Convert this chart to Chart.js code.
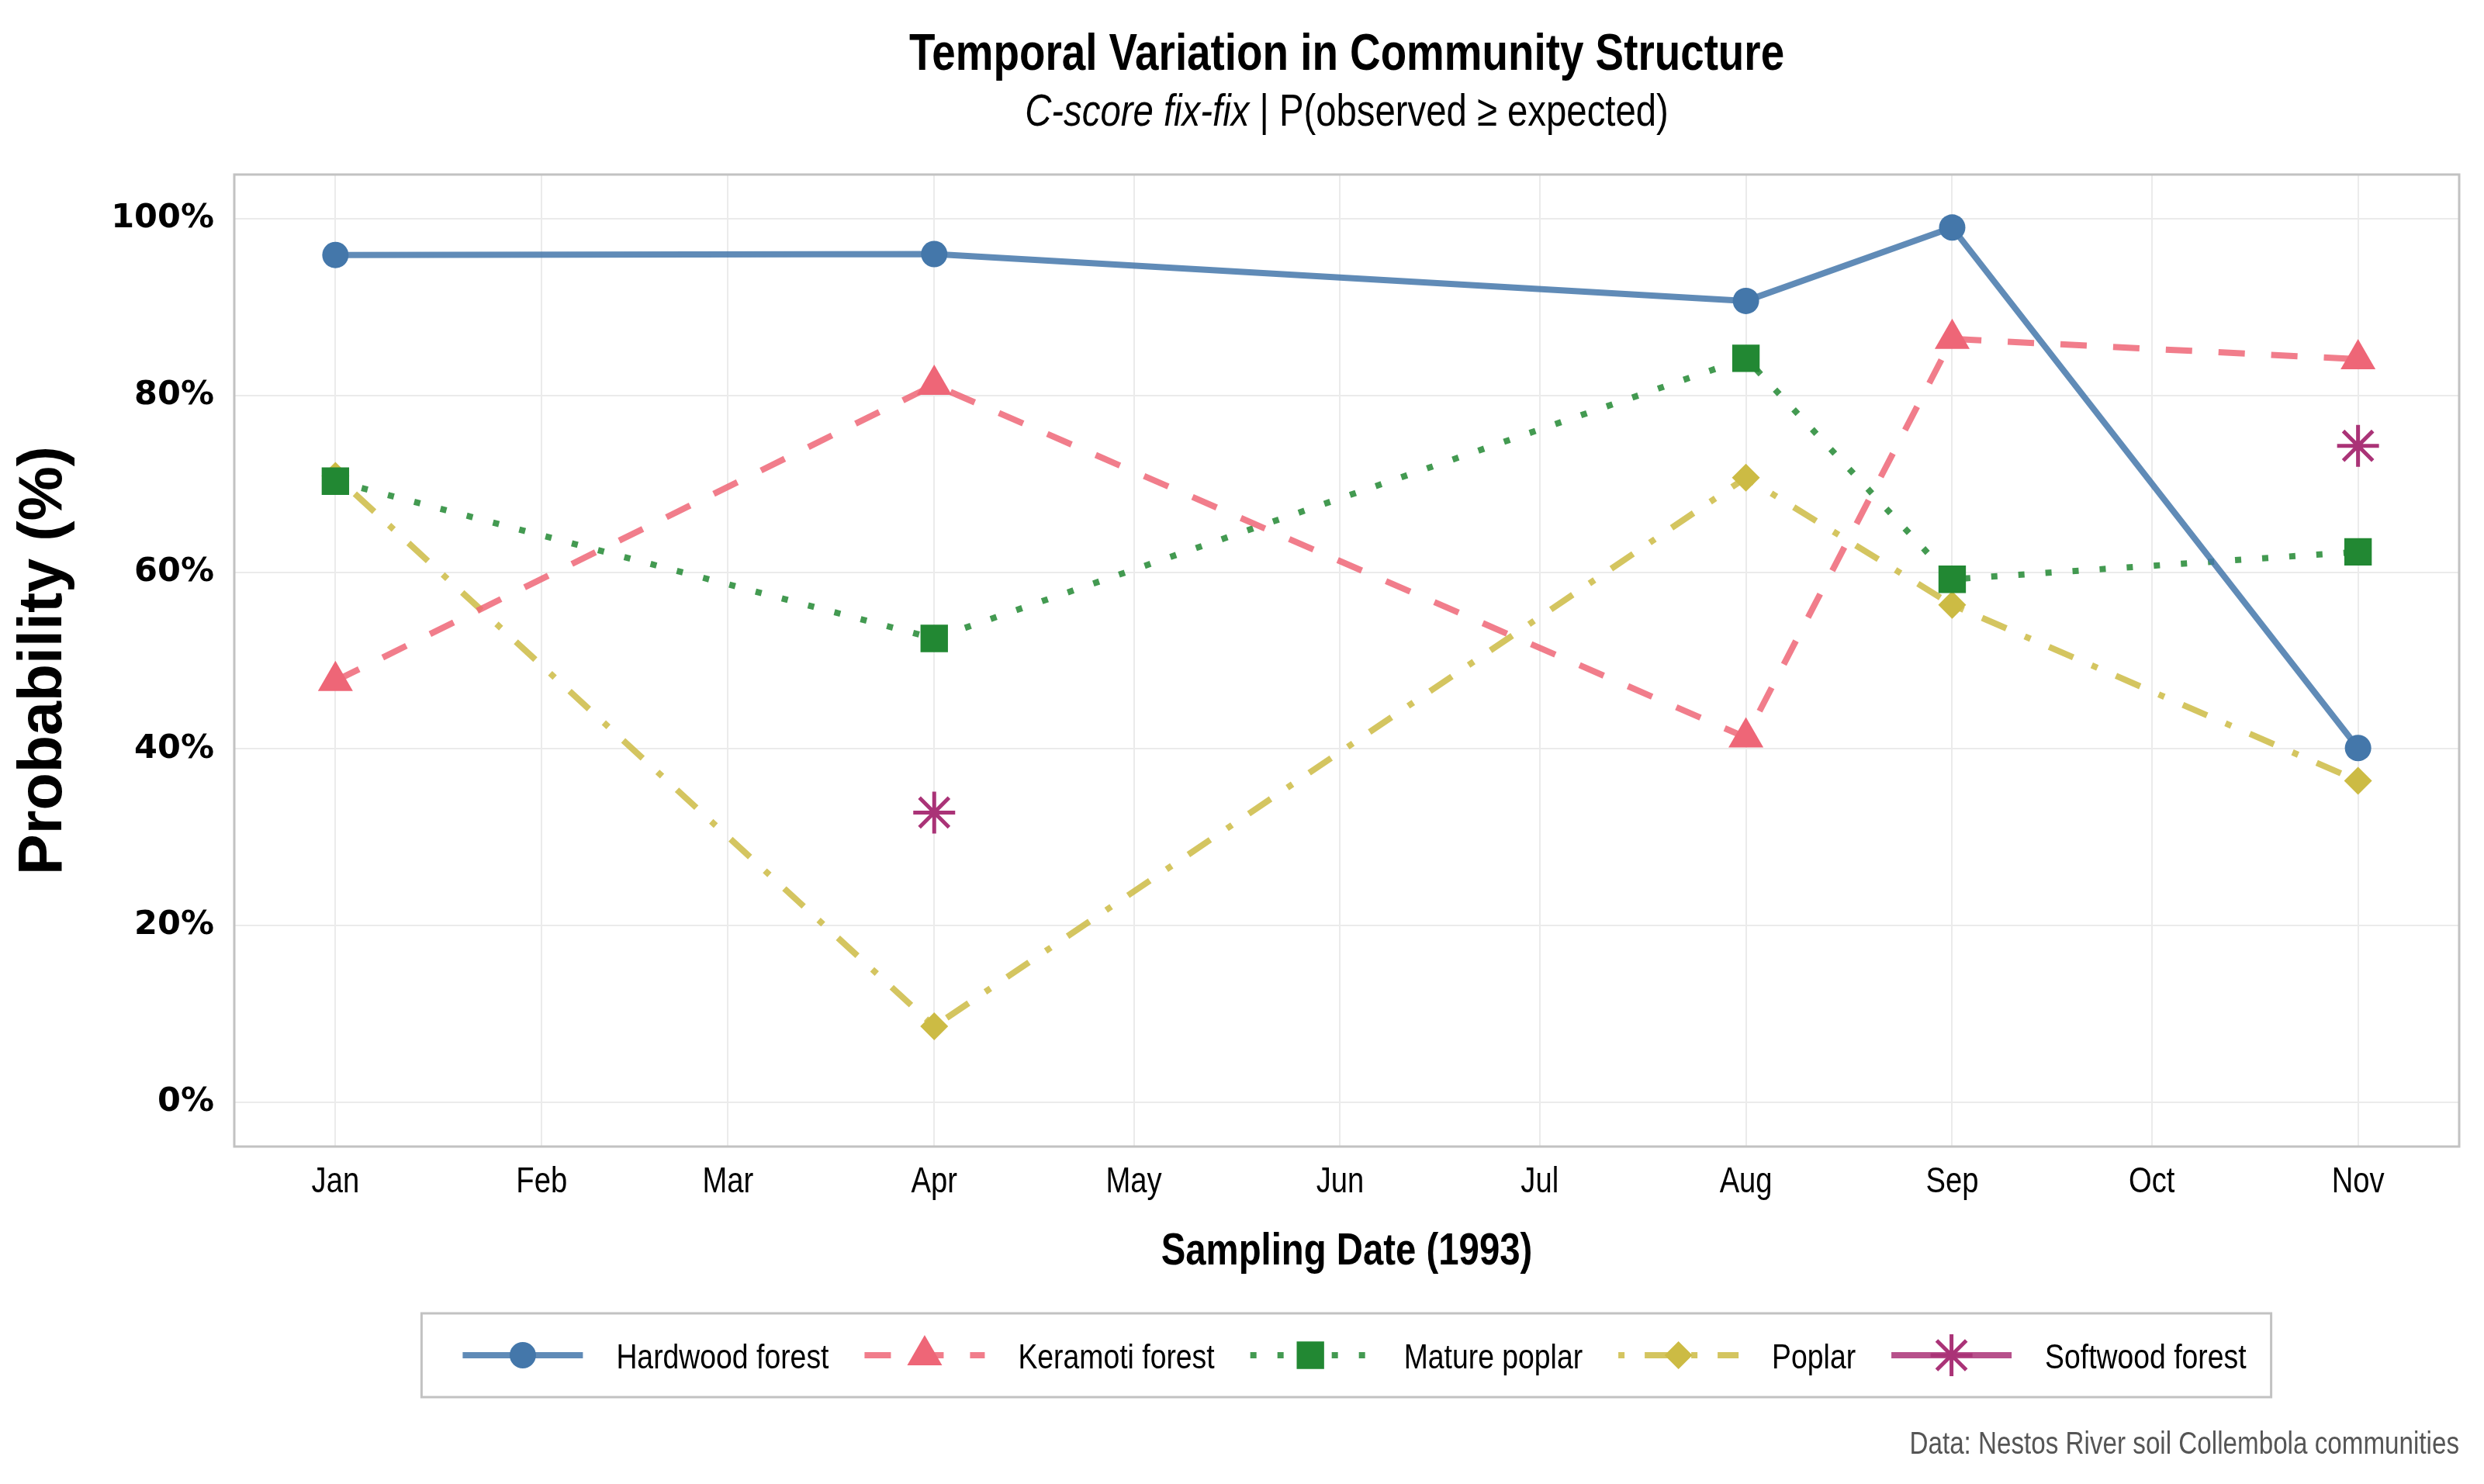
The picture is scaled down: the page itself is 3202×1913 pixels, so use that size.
<!DOCTYPE html>
<html>
<head>
<meta charset="utf-8">
<title>Temporal Variation in Community Structure</title>
<script src="https://cdn.jsdelivr.net/npm/chart.js@4.4.0/dist/chart.umd.min.js"></script>
<style>
  html, body { margin: 0; padding: 0; background: #fff; }
</style>
</head>
<body>
<canvas id="chart" width="3202" height="1913"></canvas>
<script>
/* Data (C-score fix-fix, P(observed >= expected), %) */
const monthLabels   = ['Jan','Feb','Mar','Apr','May','Jun','Jul','Aug','Sep','Oct','Nov'];
const monthStartDay = [0, 31, 59, 90, 120, 151, 181, 212, 243, 273, 304];   // day of 1993
const sampleMonths  = ['Jan','Apr','Aug','Sep','Nov'];
const yTicks        = [0, 20, 40, 60, 80, 100];

const hardwood     = [95.9, 96.0, 90.7, 99.0, 40.1];
const keramoti     = [47.7, 81.2, 41.3, 86.4, 84.1];
const maturePoplar = [70.3, 52.5, 84.2, 59.2, 62.3];
const poplar       = [70.9,  8.6, 70.7, 56.3, 36.4];
const softwood     = [null, 32.8, null, null, 74.3];

const seriesNames = ['Hardwood forest','Keramoti forest','Mature poplar','Poplar','Softwood forest'];
const seriesData  = [hardwood, keramoti, maturePoplar, poplar, softwood];

/* Look */
const SANS = '"Liberation Sans", Arial, sans-serif';
const SQUEEZE = 0.83;   // Arial Narrow look
const styles = {
  'Hardwood forest': { color:'#4477AA', line:'rgba(68,119,170,0.85)',  dash:[],           point:'circle',  r:17, bw:0 },
  'Keramoti forest': { color:'#EE6677', line:'rgba(238,102,119,0.85)', dash:[34,34],      point:'triangle',r:26, bw:0 },
  'Mature poplar':   { color:'#228833', line:'rgba(34,136,51,0.85)',   dash:[8,27],       point:'rect',    r:25, bw:0 },
  'Poplar':          { color:'#CCBB44', line:'rgba(204,187,68,0.85)',  dash:[8,26,34,26], point:'rectRot', r:18, bw:0 },
  'Softwood forest': { color:'#AA3377', line:'rgba(170,51,119,0.85)',  dash:[],           point:'star',    r:27, bw:5 }
};
const LINE_W = 8;

function dayOf(m){ return monthStartDay[monthLabels.indexOf(m)]; }

const datasets = seriesNames.map((name, i) => {
  const s = styles[name];
  return {
    label: name,
    data: sampleMonths.map((m, j) => ({ x: dayOf(m), y: seriesData[i][j] })),
    borderColor: s.line,
    borderWidth: LINE_W,
    borderDash: s.dash,
    borderJoinStyle: 'round',
    pointStyle: s.point,
    pointRadius: s.r,
    pointBackgroundColor: s.color,
    pointBorderColor: s.color,
    pointBorderWidth: s.bw,
    spanGaps: false,
    tension: 0,
    fill: false
  };
});

/* narrow text: Liberation Sans squeezed horizontally */
function narrowText(ctx, text, x, y, font, align, color) {
  ctx.save();
  ctx.font = font;
  const w = ctx.measureText(text).width * SQUEEZE;
  const left = align === 'center' ? x - w / 2 : align === 'right' ? x - w : x;
  ctx.translate(left, y);
  ctx.scale(SQUEEZE, 1);
  ctx.textAlign = 'left';
  ctx.textBaseline = 'alphabetic';
  ctx.fillStyle = color || '#000';
  ctx.fillText(text, 0, 0);
  ctx.restore();
  return w;
}
function narrowWidth(ctx, text, font) {
  ctx.save(); ctx.font = font;
  const w = ctx.measureText(text).width * SQUEEZE;
  ctx.restore();
  return w;
}

/* Titles, x labels, panel border, ggplot-style legend and caption */
const decor = {
  id: 'decor',
  afterDraw(chart) {
    const { ctx, chartArea: a } = chart;
    const xs = chart.scales.x;
    const cx = (a.left + a.right) / 2;
    ctx.save();

    // panel border
    ctx.strokeStyle = '#c2c2c2';
    ctx.lineWidth = 3;
    ctx.strokeRect(a.left, a.top, a.right - a.left, a.bottom - a.top);

    // title + subtitle
    narrowText(ctx, 'Temporal Variation in Community Structure', cx, 90, `bold 66px ${SANS}`, 'center');
    const partA = 'C-score fix-fix', partB = ' | P(observed \u2265 expected)';
    const fA = `italic 57px ${SANS}`, fB = `57px ${SANS}`;
    const wA = narrowWidth(ctx, partA, fA), wB = narrowWidth(ctx, partB, fB);
    const sx = cx - (wA + wB) / 2;
    narrowText(ctx, partA, sx, 162, fA, 'left');
    narrowText(ctx, partB, sx + wA, 162, fB, 'left');

    // x tick labels and x title
    monthLabels.forEach((lab, i) => {
      narrowText(ctx, lab, xs.getPixelForValue(monthStartDay[i]), 1537, `46px ${SANS}`, 'center');
    });
    narrowText(ctx, 'Sampling Date (1993)', cx, 1630, `bold 57px ${SANS}`, 'center');

    // legend
    const keyW = 155, keyGap = 43, itemGap = 46, ly = 1747;
    const lf = `45px ${SANS}`;
    const tw = seriesNames.map(n => narrowWidth(ctx, n, lf));
    const total = seriesNames.length * (keyW + keyGap) + tw.reduce((p, q) => p + q, 0) + (seriesNames.length - 1) * itemGap;
    let x = cx + 10 - total / 2;
    ctx.strokeStyle = '#c2c2c2';
    ctx.lineWidth = 3;
    ctx.setLineDash([]);
    ctx.strokeRect(x - 53, 1693, total + 53 + 32, 108);
    seriesNames.forEach((name, i) => {
      const s = styles[name];
      ctx.strokeStyle = s.line;
      ctx.lineWidth = LINE_W;
      ctx.lineCap = 'butt';
      ctx.setLineDash(s.dash);
      ctx.beginPath();
      ctx.moveTo(x, ly);
      ctx.lineTo(x + keyW, ly);
      ctx.stroke();
      ctx.setLineDash([]);
      ctx.fillStyle = s.color;
      ctx.strokeStyle = s.color;
      ctx.lineWidth = s.bw;
      if (Chart.helpers && Chart.helpers.drawPoint) {
        Chart.helpers.drawPoint(ctx, { pointStyle: s.point, rotation: 0, radius: s.r, borderWidth: s.bw }, x + keyW / 2, ly);
      }
      narrowText(ctx, name, x + keyW + keyGap, ly + 17, lf, 'left');
      x += keyW + keyGap + tw[i] + itemGap;
    });

    // caption
    narrowText(ctx, 'Data: Nestos River soil Collembola communities', a.right, 1874, `40px ${SANS}`, 'right', '#555');

    ctx.restore();
  }
};

new Chart(document.getElementById('chart'), {
  type: 'line',
  data: { datasets },
  plugins: [decor],
  options: {
    responsive: false,
    animation: false,
    layout: { padding: { left: 0, top: 225, right: 31, bottom: 273 } },
    plugins: { legend: { display: false }, tooltip: { enabled: false } },
    scales: {
      x: {
        type: 'linear',
        min: -15.2,
        max: 319.2,
        afterBuildTicks: s => { s.ticks = monthStartDay.map(v => ({ value: v })); },
        afterFit: s => { s.height = 162; },
        ticks: { display: false, autoSkip: false },
        grid: { color: '#ebebeb', lineWidth: 2, drawTicks: false },
        border: { display: false },
        title: { display: false }
      },
      y: {
        min: -5,
        max: 105,
        afterBuildTicks: s => { s.ticks = yTicks.map(v => ({ value: v })); },
        afterFit: s => { s.width = 302; },
        ticks: {
          padding: 26, color: '#000',
          font: { family: '"DejaVu Sans", sans-serif', size: 43, weight: 'bold' },
          callback: v => v + '%'
        },
        grid: { color: '#ebebeb', lineWidth: 2, drawTicks: false },
        border: { display: false },
        title: {
          display: true, text: 'Probability (%)', color: '#000',
          font: { family: SANS, size: 79, weight: 'bold' },
          padding: { top: 10, bottom: 0 }
        }
      }
    }
  }
});
</script>
</body>
</html>
